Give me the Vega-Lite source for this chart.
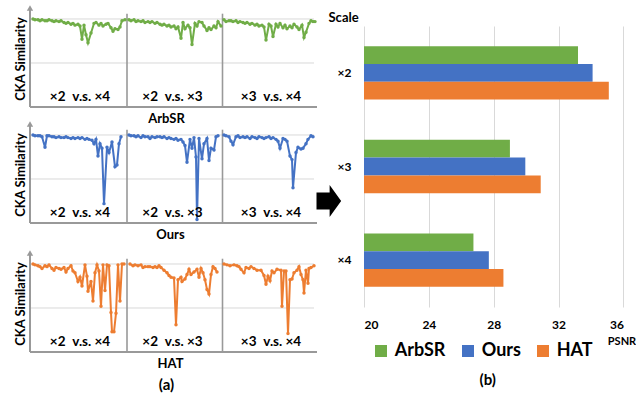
{
"$schema": "https://vega.github.io/schema/vega-lite/v6.json",
"padding": {"left": 14, "top": 5, "right": 0, "bottom": 0},
"background": "white",
"config": {
  "font": "Lato",
  "view": {"stroke": null},
  "axis": {"labelColor": "#000", "titleColor": "#000", "titleFontWeight": "bold", "labelFontWeight": "bold", "labelFont": "Lato", "titleFont": "Lato"},
  "title": {"font": "Lato", "color": "#000", "fontWeight": "bold"},
  "legend": {"labelFont": "Lato", "labelColor": "#000"}
},
"datasets": {
  "labs": [{"lab": "×2\u2002v.s. ×4", "lt": 50}, {"lab": "×2\u2002v.s. ×3", "lt": 142.5}, {"lab": "×3\u2002v.s. ×4", "lt": 241}],
  "psnr": [
    {"scale": "×2", "method": "ArbSR", "psnr": 33.2}, {"scale": "×2", "method": "Ours", "psnr": 34.1}, {"scale": "×2", "method": "HAT", "psnr": 35.1},
    {"scale": "×3", "method": "ArbSR", "psnr": 29.0}, {"scale": "×3", "method": "Ours", "psnr": 29.95}, {"scale": "×3", "method": "HAT", "psnr": 30.9},
    {"scale": "×4", "method": "ArbSR", "psnr": 26.75}, {"scale": "×4", "method": "Ours", "psnr": 27.7}, {"scale": "×4", "method": "HAT", "psnr": 28.6}
  ],
  "cka": [
    {"r":"ArbSR","p":1,"t":3,"v":1.0},{"r":"ArbSR","p":1,"t":5,"v":0.99},{"r":"ArbSR","p":1,"t":8,"v":0.99},{"r":"ArbSR","p":1,"t":10,"v":0.98},{"r":"ArbSR","p":1,"t":12,"v":0.99},{"r":"ArbSR","p":1,"t":15,"v":0.98},{"r":"ArbSR","p":1,"t":17,"v":0.98},{"r":"ArbSR","p":1,"t":19,"v":0.99},{"r":"ArbSR","p":1,"t":22,"v":0.98},{"r":"ArbSR","p":1,"t":24,"v":0.97},{"r":"ArbSR","p":1,"t":26,"v":0.98},{"r":"ArbSR","p":1,"t":29,"v":0.97},{"r":"ArbSR","p":1,"t":31,"v":0.98},{"r":"ArbSR","p":1,"t":34,"v":0.96},{"r":"ArbSR","p":1,"t":36,"v":0.95},{"r":"ArbSR","p":1,"t":38,"v":0.96},{"r":"ArbSR","p":1,"t":41,"v":0.94},{"r":"ArbSR","p":1,"t":43,"v":0.95},{"r":"ArbSR","p":1,"t":45,"v":0.93},{"r":"ArbSR","p":1,"t":48,"v":0.94},{"r":"ArbSR","p":1,"t":50,"v":0.92},{"r":"ArbSR","p":1,"t":52,"v":0.77},{"r":"ArbSR","p":1,"t":54,"v":0.93},{"r":"ArbSR","p":1,"t":56,"v":0.82},{"r":"ArbSR","p":1,"t":58,"v":0.73},{"r":"ArbSR","p":1,"t":61,"v":0.84},{"r":"ArbSR","p":1,"t":64,"v":0.95},{"r":"ArbSR","p":1,"t":66,"v":0.96},{"r":"ArbSR","p":1,"t":69,"v":0.93},{"r":"ArbSR","p":1,"t":71,"v":0.95},{"r":"ArbSR","p":1,"t":73,"v":0.92},{"r":"ArbSR","p":1,"t":76,"v":0.94},{"r":"ArbSR","p":1,"t":78,"v":0.95},{"r":"ArbSR","p":1,"t":81,"v":0.9},{"r":"ArbSR","p":1,"t":83,"v":0.86},{"r":"ArbSR","p":1,"t":85,"v":0.89},{"r":"ArbSR","p":1,"t":88,"v":0.88},{"r":"ArbSR","p":1,"t":90,"v":0.91},{"r":"ArbSR","p":1,"t":92,"v":0.98},{"r":"ArbSR","p":1,"t":95,"v":0.99},
    {"r":"ArbSR","p":2,"t":99,"v":0.99},{"r":"ArbSR","p":2,"t":101,"v":0.98},{"r":"ArbSR","p":2,"t":104,"v":0.99},{"r":"ArbSR","p":2,"t":106,"v":0.97},{"r":"ArbSR","p":2,"t":108,"v":0.98},{"r":"ArbSR","p":2,"t":111,"v":0.97},{"r":"ArbSR","p":2,"t":113,"v":0.98},{"r":"ArbSR","p":2,"t":115,"v":0.96},{"r":"ArbSR","p":2,"t":118,"v":0.97},{"r":"ArbSR","p":2,"t":120,"v":0.96},{"r":"ArbSR","p":2,"t":122,"v":0.97},{"r":"ArbSR","p":2,"t":125,"v":0.95},{"r":"ArbSR","p":2,"t":127,"v":0.96},{"r":"ArbSR","p":2,"t":130,"v":0.94},{"r":"ArbSR","p":2,"t":132,"v":0.93},{"r":"ArbSR","p":2,"t":134,"v":0.94},{"r":"ArbSR","p":2,"t":137,"v":0.92},{"r":"ArbSR","p":2,"t":139,"v":0.93},{"r":"ArbSR","p":2,"t":141,"v":0.91},{"r":"ArbSR","p":2,"t":144,"v":0.92},{"r":"ArbSR","p":2,"t":146,"v":0.89},{"r":"ArbSR","p":2,"t":148,"v":0.91},{"r":"ArbSR","p":2,"t":151,"v":0.78},{"r":"ArbSR","p":2,"t":153,"v":0.96},{"r":"ArbSR","p":2,"t":155,"v":0.89},{"r":"ArbSR","p":2,"t":158,"v":0.93},{"r":"ArbSR","p":2,"t":160,"v":0.9},{"r":"ArbSR","p":2,"t":162,"v":0.71},{"r":"ArbSR","p":2,"t":165,"v":0.95},{"r":"ArbSR","p":2,"t":167,"v":0.92},{"r":"ArbSR","p":2,"t":169,"v":0.97},{"r":"ArbSR","p":2,"t":172,"v":0.96},{"r":"ArbSR","p":2,"t":174,"v":0.92},{"r":"ArbSR","p":2,"t":177,"v":0.87},{"r":"ArbSR","p":2,"t":179,"v":0.9},{"r":"ArbSR","p":2,"t":181,"v":0.88},{"r":"ArbSR","p":2,"t":184,"v":0.92},{"r":"ArbSR","p":2,"t":186,"v":0.9},{"r":"ArbSR","p":2,"t":188,"v":0.97},{"r":"ArbSR","p":2,"t":191,"v":0.92},
    {"r":"ArbSR","p":3,"t":194,"v":0.99},{"r":"ArbSR","p":3,"t":196,"v":0.97},{"r":"ArbSR","p":3,"t":199,"v":0.98},{"r":"ArbSR","p":3,"t":201,"v":0.98},{"r":"ArbSR","p":3,"t":203,"v":0.97},{"r":"ArbSR","p":3,"t":206,"v":0.98},{"r":"ArbSR","p":3,"t":208,"v":0.96},{"r":"ArbSR","p":3,"t":210,"v":0.97},{"r":"ArbSR","p":3,"t":213,"v":0.96},{"r":"ArbSR","p":3,"t":215,"v":0.95},{"r":"ArbSR","p":3,"t":217,"v":0.96},{"r":"ArbSR","p":3,"t":220,"v":0.94},{"r":"ArbSR","p":3,"t":222,"v":0.95},{"r":"ArbSR","p":3,"t":225,"v":0.93},{"r":"ArbSR","p":3,"t":227,"v":0.94},{"r":"ArbSR","p":3,"t":229,"v":0.92},{"r":"ArbSR","p":3,"t":232,"v":0.93},{"r":"ArbSR","p":3,"t":234,"v":0.91},{"r":"ArbSR","p":3,"t":236,"v":0.76},{"r":"ArbSR","p":3,"t":239,"v":0.94},{"r":"ArbSR","p":3,"t":241,"v":0.92},{"r":"ArbSR","p":3,"t":243,"v":0.8},{"r":"ArbSR","p":3,"t":246,"v":0.94},{"r":"ArbSR","p":3,"t":248,"v":0.91},{"r":"ArbSR","p":3,"t":250,"v":0.95},{"r":"ArbSR","p":3,"t":253,"v":0.9},{"r":"ArbSR","p":3,"t":255,"v":0.93},{"r":"ArbSR","p":3,"t":257,"v":0.89},{"r":"ArbSR","p":3,"t":260,"v":0.92},{"r":"ArbSR","p":3,"t":262,"v":0.9},{"r":"ArbSR","p":3,"t":264,"v":0.94},{"r":"ArbSR","p":3,"t":267,"v":0.91},{"r":"ArbSR","p":3,"t":269,"v":0.88},{"r":"ArbSR","p":3,"t":272,"v":0.93},{"r":"ArbSR","p":3,"t":274,"v":0.79},{"r":"ArbSR","p":3,"t":276,"v":0.85},{"r":"ArbSR","p":3,"t":279,"v":0.95},{"r":"ArbSR","p":3,"t":281,"v":0.98},{"r":"ArbSR","p":3,"t":283,"v":0.97},{"r":"ArbSR","p":3,"t":285,"v":0.97},
    {"r":"Ours","p":1,"t":3,"v":1.0},{"r":"Ours","p":1,"t":5,"v":0.99},{"r":"Ours","p":1,"t":8,"v":0.99},{"r":"Ours","p":1,"t":10,"v":0.99},{"r":"Ours","p":1,"t":12,"v":0.98},{"r":"Ours","p":1,"t":15,"v":0.86},{"r":"Ours","p":1,"t":17,"v":0.99},{"r":"Ours","p":1,"t":19,"v":0.99},{"r":"Ours","p":1,"t":22,"v":0.98},{"r":"Ours","p":1,"t":24,"v":0.98},{"r":"Ours","p":1,"t":26,"v":0.97},{"r":"Ours","p":1,"t":29,"v":0.98},{"r":"Ours","p":1,"t":31,"v":0.97},{"r":"Ours","p":1,"t":34,"v":0.97},{"r":"Ours","p":1,"t":36,"v":0.98},{"r":"Ours","p":1,"t":38,"v":0.97},{"r":"Ours","p":1,"t":41,"v":0.96},{"r":"Ours","p":1,"t":43,"v":0.97},{"r":"Ours","p":1,"t":45,"v":0.96},{"r":"Ours","p":1,"t":48,"v":0.97},{"r":"Ours","p":1,"t":50,"v":0.96},{"r":"Ours","p":1,"t":52,"v":0.97},{"r":"Ours","p":1,"t":55,"v":0.95},{"r":"Ours","p":1,"t":57,"v":0.96},{"r":"Ours","p":1,"t":59,"v":0.95},{"r":"Ours","p":1,"t":62,"v":0.94},{"r":"Ours","p":1,"t":64,"v":0.9},{"r":"Ours","p":1,"t":66,"v":0.95},{"r":"Ours","p":1,"t":68,"v":0.76},{"r":"Ours","p":1,"t":70,"v":0.9},{"r":"Ours","p":1,"t":72,"v":0.85},{"r":"Ours","p":1,"t":74,"v":0.22},{"r":"Ours","p":1,"t":77,"v":0.86},{"r":"Ours","p":1,"t":79,"v":0.8},{"r":"Ours","p":1,"t":82,"v":0.92},{"r":"Ours","p":1,"t":85,"v":0.64},{"r":"Ours","p":1,"t":87,"v":0.66},{"r":"Ours","p":1,"t":89,"v":0.9},{"r":"Ours","p":1,"t":91,"v":0.98},
    {"r":"Ours","p":2,"t":99,"v":1.0},{"r":"Ours","p":2,"t":101,"v":0.99},{"r":"Ours","p":2,"t":104,"v":0.99},{"r":"Ours","p":2,"t":106,"v":0.98},{"r":"Ours","p":2,"t":108,"v":0.99},{"r":"Ours","p":2,"t":111,"v":0.97},{"r":"Ours","p":2,"t":113,"v":0.99},{"r":"Ours","p":2,"t":115,"v":0.98},{"r":"Ours","p":2,"t":118,"v":0.98},{"r":"Ours","p":2,"t":120,"v":0.96},{"r":"Ours","p":2,"t":122,"v":0.98},{"r":"Ours","p":2,"t":125,"v":0.97},{"r":"Ours","p":2,"t":127,"v":0.98},{"r":"Ours","p":2,"t":130,"v":0.98},{"r":"Ours","p":2,"t":132,"v":0.97},{"r":"Ours","p":2,"t":134,"v":0.98},{"r":"Ours","p":2,"t":137,"v":0.96},{"r":"Ours","p":2,"t":139,"v":0.97},{"r":"Ours","p":2,"t":141,"v":0.96},{"r":"Ours","p":2,"t":144,"v":0.95},{"r":"Ours","p":2,"t":146,"v":0.96},{"r":"Ours","p":2,"t":148,"v":0.94},{"r":"Ours","p":2,"t":151,"v":0.95},{"r":"Ours","p":2,"t":153,"v":0.92},{"r":"Ours","p":2,"t":155,"v":0.88},{"r":"Ours","p":2,"t":157,"v":0.69},{"r":"Ours","p":2,"t":160,"v":0.95},{"r":"Ours","p":2,"t":162,"v":0.85},{"r":"Ours","p":2,"t":164,"v":0.97},{"r":"Ours","p":2,"t":166,"v":0.75},{"r":"Ours","p":2,"t":167,"v":0.04},{"r":"Ours","p":2,"t":169,"v":0.96},{"r":"Ours","p":2,"t":172,"v":0.73},{"r":"Ours","p":2,"t":174,"v":0.9},{"r":"Ours","p":2,"t":177,"v":0.96},{"r":"Ours","p":2,"t":179,"v":0.71},{"r":"Ours","p":2,"t":181,"v":0.85},{"r":"Ours","p":2,"t":184,"v":0.83},{"r":"Ours","p":2,"t":186,"v":0.98},{"r":"Ours","p":2,"t":188,"v":0.99},
    {"r":"Ours","p":3,"t":194,"v":1.0},{"r":"Ours","p":3,"t":196,"v":0.99},{"r":"Ours","p":3,"t":199,"v":0.98},{"r":"Ours","p":3,"t":201,"v":0.93},{"r":"Ours","p":3,"t":203,"v":0.89},{"r":"Ours","p":3,"t":206,"v":0.98},{"r":"Ours","p":3,"t":208,"v":0.99},{"r":"Ours","p":3,"t":210,"v":0.97},{"r":"Ours","p":3,"t":213,"v":0.98},{"r":"Ours","p":3,"t":215,"v":0.97},{"r":"Ours","p":3,"t":217,"v":0.98},{"r":"Ours","p":3,"t":220,"v":0.96},{"r":"Ours","p":3,"t":222,"v":0.98},{"r":"Ours","p":3,"t":225,"v":0.97},{"r":"Ours","p":3,"t":227,"v":0.96},{"r":"Ours","p":3,"t":229,"v":0.98},{"r":"Ours","p":3,"t":232,"v":0.97},{"r":"Ours","p":3,"t":234,"v":0.96},{"r":"Ours","p":3,"t":236,"v":0.97},{"r":"Ours","p":3,"t":239,"v":0.98},{"r":"Ours","p":3,"t":241,"v":0.96},{"r":"Ours","p":3,"t":243,"v":0.97},{"r":"Ours","p":3,"t":246,"v":0.95},{"r":"Ours","p":3,"t":248,"v":0.93},{"r":"Ours","p":3,"t":250,"v":0.85},{"r":"Ours","p":3,"t":253,"v":0.96},{"r":"Ours","p":3,"t":255,"v":0.95},{"r":"Ours","p":3,"t":257,"v":0.93},{"r":"Ours","p":3,"t":260,"v":0.76},{"r":"Ours","p":3,"t":262,"v":0.72},{"r":"Ours","p":3,"t":263,"v":0.4},{"r":"Ours","p":3,"t":266,"v":0.8},{"r":"Ours","p":3,"t":268,"v":0.86},{"r":"Ours","p":3,"t":271,"v":0.84},{"r":"Ours","p":3,"t":273,"v":0.85},{"r":"Ours","p":3,"t":276,"v":0.9},{"r":"Ours","p":3,"t":278,"v":0.95},{"r":"Ours","p":3,"t":281,"v":0.99},{"r":"Ours","p":3,"t":283,"v":0.98},
    {"r":"HAT","p":1,"t":3,"v":1.0},{"r":"HAT","p":1,"t":5,"v":0.99},{"r":"HAT","p":1,"t":8,"v":0.98},{"r":"HAT","p":1,"t":10,"v":0.97},{"r":"HAT","p":1,"t":12,"v":0.95},{"r":"HAT","p":1,"t":15,"v":0.98},{"r":"HAT","p":1,"t":17,"v":0.97},{"r":"HAT","p":1,"t":19,"v":0.99},{"r":"HAT","p":1,"t":22,"v":0.95},{"r":"HAT","p":1,"t":24,"v":0.93},{"r":"HAT","p":1,"t":26,"v":0.96},{"r":"HAT","p":1,"t":29,"v":0.95},{"r":"HAT","p":1,"t":31,"v":0.94},{"r":"HAT","p":1,"t":34,"v":0.96},{"r":"HAT","p":1,"t":36,"v":0.91},{"r":"HAT","p":1,"t":38,"v":0.95},{"r":"HAT","p":1,"t":41,"v":0.98},{"r":"HAT","p":1,"t":43,"v":0.92},{"r":"HAT","p":1,"t":45,"v":0.9},{"r":"HAT","p":1,"t":48,"v":0.8},{"r":"HAT","p":1,"t":50,"v":0.85},{"r":"HAT","p":1,"t":52,"v":0.75},{"r":"HAT","p":1,"t":55,"v":0.99},{"r":"HAT","p":1,"t":57,"v":0.86},{"r":"HAT","p":1,"t":58,"v":0.69},{"r":"HAT","p":1,"t":61,"v":0.8},{"r":"HAT","p":1,"t":63,"v":0.58},{"r":"HAT","p":1,"t":65,"v":0.9},{"r":"HAT","p":1,"t":67,"v":0.99},{"r":"HAT","p":1,"t":69,"v":0.92},{"r":"HAT","p":1,"t":71,"v":0.52},{"r":"HAT","p":1,"t":73,"v":0.99},{"r":"HAT","p":1,"t":75,"v":0.7},{"r":"HAT","p":1,"t":77,"v":0.99},{"r":"HAT","p":1,"t":79,"v":0.98},{"r":"HAT","p":1,"t":81,"v":0.45},{"r":"HAT","p":1,"t":82,"v":0.23},{"r":"HAT","p":1,"t":84,"v":0.23},{"r":"HAT","p":1,"t":86,"v":0.44},{"r":"HAT","p":1,"t":88,"v":0.99},{"r":"HAT","p":1,"t":90,"v":0.58},{"r":"HAT","p":1,"t":92,"v":1.0},{"r":"HAT","p":1,"t":94,"v":1.0},
    {"r":"HAT","p":2,"t":100,"v":1.0},{"r":"HAT","p":2,"t":103,"v":0.98},{"r":"HAT","p":2,"t":105,"v":0.99},{"r":"HAT","p":2,"t":108,"v":0.98},{"r":"HAT","p":2,"t":111,"v":0.99},{"r":"HAT","p":2,"t":113,"v":0.96},{"r":"HAT","p":2,"t":115,"v":0.97},{"r":"HAT","p":2,"t":118,"v":0.97},{"r":"HAT","p":2,"t":120,"v":0.97},{"r":"HAT","p":2,"t":123,"v":0.96},{"r":"HAT","p":2,"t":125,"v":0.97},{"r":"HAT","p":2,"t":127,"v":0.96},{"r":"HAT","p":2,"t":129,"v":0.98},{"r":"HAT","p":2,"t":131,"v":0.96},{"r":"HAT","p":2,"t":134,"v":0.93},{"r":"HAT","p":2,"t":137,"v":0.9},{"r":"HAT","p":2,"t":139,"v":0.87},{"r":"HAT","p":2,"t":141,"v":0.85},{"r":"HAT","p":2,"t":144,"v":0.84},{"r":"HAT","p":2,"t":146,"v":0.31},{"r":"HAT","p":2,"t":148,"v":0.82},{"r":"HAT","p":2,"t":151,"v":0.85},{"r":"HAT","p":2,"t":152,"v":0.8},{"r":"HAT","p":2,"t":155,"v":0.83},{"r":"HAT","p":2,"t":157,"v":0.88},{"r":"HAT","p":2,"t":159,"v":0.94},{"r":"HAT","p":2,"t":161,"v":0.88},{"r":"HAT","p":2,"t":164,"v":0.91},{"r":"HAT","p":2,"t":167,"v":0.94},{"r":"HAT","p":2,"t":169,"v":0.85},{"r":"HAT","p":2,"t":171,"v":0.95},{"r":"HAT","p":2,"t":173,"v":0.9},{"r":"HAT","p":2,"t":175,"v":0.82},{"r":"HAT","p":2,"t":177,"v":0.71},{"r":"HAT","p":2,"t":179,"v":0.66},{"r":"HAT","p":2,"t":181,"v":0.88},{"r":"HAT","p":2,"t":183,"v":0.97},{"r":"HAT","p":2,"t":185,"v":0.95},{"r":"HAT","p":2,"t":187,"v":0.91},
    {"r":"HAT","p":3,"t":194,"v":1.0},{"r":"HAT","p":3,"t":197,"v":0.99},{"r":"HAT","p":3,"t":200,"v":0.98},{"r":"HAT","p":3,"t":204,"v":0.99},{"r":"HAT","p":3,"t":207,"v":0.98},{"r":"HAT","p":3,"t":209,"v":0.97},{"r":"HAT","p":3,"t":211,"v":0.94},{"r":"HAT","p":3,"t":214,"v":0.9},{"r":"HAT","p":3,"t":216,"v":0.96},{"r":"HAT","p":3,"t":219,"v":0.95},{"r":"HAT","p":3,"t":221,"v":0.97},{"r":"HAT","p":3,"t":224,"v":0.95},{"r":"HAT","p":3,"t":227,"v":0.93},{"r":"HAT","p":3,"t":231,"v":0.93},{"r":"HAT","p":3,"t":234,"v":0.87},{"r":"HAT","p":3,"t":236,"v":0.77},{"r":"HAT","p":3,"t":238,"v":0.86},{"r":"HAT","p":3,"t":240,"v":0.81},{"r":"HAT","p":3,"t":242,"v":0.92},{"r":"HAT","p":3,"t":244,"v":0.9},{"r":"HAT","p":3,"t":247,"v":0.94},{"r":"HAT","p":3,"t":251,"v":0.93},{"r":"HAT","p":3,"t":252,"v":0.52},{"r":"HAT","p":3,"t":254,"v":0.92},{"r":"HAT","p":3,"t":256,"v":0.92},{"r":"HAT","p":3,"t":258,"v":0.21},{"r":"HAT","p":3,"t":260,"v":0.82},{"r":"HAT","p":3,"t":262,"v":0.83},{"r":"HAT","p":3,"t":264,"v":0.9},{"r":"HAT","p":3,"t":267,"v":0.93},{"r":"HAT","p":3,"t":269,"v":0.97},{"r":"HAT","p":3,"t":271,"v":0.88},{"r":"HAT","p":3,"t":273,"v":0.82},{"r":"HAT","p":3,"t":274,"v":0.67},{"r":"HAT","p":3,"t":276,"v":0.93},{"r":"HAT","p":3,"t":278,"v":0.78},{"r":"HAT","p":3,"t":279,"v":0.95},{"r":"HAT","p":3,"t":281,"v":0.96},{"r":"HAT","p":3,"t":284,"v":0.98}
  ]
},
"spacing": -3,
"hconcat": [
  {
    "vconcat": [
      {
        "width": 287, "height": 100,
        "layer": [
          {"data": {"values": [{"g": 1}, {"g": 0.5}]}, "mark": {"type": "rule", "color": "#d9d9d9", "strokeWidth": 1}, "encoding": {"y": {"field": "g", "type": "quantitative"}, "x": {"datum": 0}, "x2": {"datum": 284}}},
          {"data": {"values": [{"s": 97}, {"s": 192.5}]}, "mark": {"type": "rule", "color": "#999999", "strokeWidth": 1.6}, "encoding": {"x": {"field": "s", "type": "quantitative"}, "y": {"datum": 0}, "y2": {"datum": 1.06}}},
          {"data": {"values": [{"a": 1}]}, "mark": {"type": "rule", "color": "#999999", "strokeWidth": 2}, "encoding": {"x": {"datum": 0}, "y": {"datum": 0}, "y2": {"datum": 1.11}}},
          {"data": {"values": [{"a": 1}]}, "mark": {"type": "rule", "color": "#999999", "strokeWidth": 2}, "encoding": {"y": {"datum": 0}, "x": {"datum": 0}, "x2": {"datum": 287}}},
          {"data": {"values": [{"a": 1}]}, "mark": {"type": "point", "shape": "triangle-up", "filled": true, "color": "#999999", "size": 40, "opacity": 1}, "encoding": {"x": {"datum": 0}, "y": {"datum": 1.125}}},
          {"data": {"name": "cka"}, "transform": [{"filter": "datum.r === 'ArbSR'"}],
           "mark": {"type": "line", "color": "#70AD47", "strokeWidth": 2, "point": {"filled": true, "size": 12, "color": "#70AD47", "opacity": 1}},
           "encoding": {
             "x": {"field": "t", "type": "quantitative", "scale": {"domain": [0, 287], "nice": false, "zero": false}, "axis": {"title": "ArbSR", "labels": false, "ticks": false, "domain": false, "grid": false, "titleFontSize": 13, "titleX": 136, "titlePadding": 5}},
             "y": {"field": "v", "type": "quantitative", "scale": {"domain": [0, 1.136], "nice": false, "zero": false}, "axis": {"title": "CKA Similarity", "labels": false, "ticks": false, "domain": false, "grid": false, "titleFontSize": 13, "titlePadding": 3, "titleY": 51.5}},
             "detail": {"field": "p"}
           }},
          {"data": {"name": "labs"}, "mark": {"type": "text", "fontSize": 13.5, "fontWeight": "bold", "color": "#000"}, "encoding": {"x": {"field": "lt", "type": "quantitative"}, "y": {"datum": 0.11}, "text": {"field": "lab"}}}
        ]
      },
      {
        "width": 287, "height": 100,
        "layer": [
          {"data": {"values": [{"g": 1}, {"g": 0.5}]}, "mark": {"type": "rule", "color": "#d9d9d9", "strokeWidth": 1}, "encoding": {"y": {"field": "g", "type": "quantitative"}, "x": {"datum": 0}, "x2": {"datum": 284}}},
          {"data": {"values": [{"s": 97}, {"s": 192.5}]}, "mark": {"type": "rule", "color": "#999999", "strokeWidth": 1.6}, "encoding": {"x": {"field": "s", "type": "quantitative"}, "y": {"datum": 0}, "y2": {"datum": 1.06}}},
          {"data": {"values": [{"a": 1}]}, "mark": {"type": "rule", "color": "#999999", "strokeWidth": 2}, "encoding": {"x": {"datum": 0}, "y": {"datum": 0}, "y2": {"datum": 1.11}}},
          {"data": {"values": [{"a": 1}]}, "mark": {"type": "rule", "color": "#999999", "strokeWidth": 2}, "encoding": {"y": {"datum": 0}, "x": {"datum": 0}, "x2": {"datum": 287}}},
          {"data": {"values": [{"a": 1}]}, "mark": {"type": "point", "shape": "triangle-up", "filled": true, "color": "#999999", "size": 40, "opacity": 1}, "encoding": {"x": {"datum": 0}, "y": {"datum": 1.125}}},
          {"data": {"name": "cka"}, "transform": [{"filter": "datum.r === 'Ours'"}],
           "mark": {"type": "line", "color": "#4472C4", "strokeWidth": 2, "point": {"filled": true, "size": 12, "color": "#4472C4", "opacity": 1}},
           "encoding": {
             "x": {"field": "t", "type": "quantitative", "scale": {"domain": [0, 287], "nice": false, "zero": false}, "axis": {"title": "Ours", "labels": false, "ticks": false, "domain": false, "grid": false, "titleFontSize": 13, "titleX": 140, "titlePadding": 5}},
             "y": {"field": "v", "type": "quantitative", "scale": {"domain": [0, 1.136], "nice": false, "zero": false}, "axis": {"title": "CKA Similarity", "labels": false, "ticks": false, "domain": false, "grid": false, "titleFontSize": 13, "titlePadding": 3, "titleY": 51.5}},
             "detail": {"field": "p"}
           }},
          {"data": {"name": "labs"}, "mark": {"type": "text", "fontSize": 13.5, "fontWeight": "bold", "color": "#000"}, "encoding": {"x": {"field": "lt", "type": "quantitative"}, "y": {"datum": 0.11}, "text": {"field": "lab"}}}
        ]
      },
      {
        "width": 287, "height": 113,
        "layer": [
          {"data": {"values": [{"g": 1}, {"g": 0.5}]}, "mark": {"type": "rule", "color": "#d9d9d9", "strokeWidth": 1}, "encoding": {"y": {"field": "g", "type": "quantitative"}, "x": {"datum": 0}, "x2": {"datum": 284}}},
          {"data": {"values": [{"s": 97}, {"s": 192.5}]}, "mark": {"type": "rule", "color": "#999999", "strokeWidth": 1.6}, "encoding": {"x": {"field": "s", "type": "quantitative"}, "y": {"datum": 0}, "y2": {"datum": 1.06}}},
          {"data": {"values": [{"a": 1}]}, "mark": {"type": "rule", "color": "#999999", "strokeWidth": 2}, "encoding": {"x": {"datum": 0}, "y": {"datum": 0}, "y2": {"datum": 1.11}}},
          {"data": {"values": [{"a": 1}]}, "mark": {"type": "rule", "color": "#999999", "strokeWidth": 2}, "encoding": {"y": {"datum": 0}, "x": {"datum": 0}, "x2": {"datum": 287}}},
          {"data": {"values": [{"a": 1}]}, "mark": {"type": "point", "shape": "triangle-up", "filled": true, "color": "#999999", "size": 40, "opacity": 1}, "encoding": {"x": {"datum": 0}, "y": {"datum": 1.125}}},
          {"data": {"name": "cka"}, "transform": [{"filter": "datum.r === 'HAT'"}],
           "mark": {"type": "line", "color": "#ED7D31", "strokeWidth": 2, "point": {"filled": true, "size": 12, "color": "#ED7D31", "opacity": 1}},
           "encoding": {
             "x": {"field": "t", "type": "quantitative", "scale": {"domain": [0, 287], "nice": false, "zero": false}, "axis": {"title": "HAT", "labels": false, "ticks": false, "domain": false, "grid": false, "titleFontSize": 13, "titleX": 140, "titlePadding": 5}},
             "y": {"field": "v", "type": "quantitative", "scale": {"domain": [0, 1.284], "nice": false, "zero": false}, "axis": {"title": "CKA Similarity", "labels": false, "ticks": false, "domain": false, "grid": false, "titleFontSize": 13, "titlePadding": 3, "titleY": 64.5}},
             "detail": {"field": "p"}
           }},
          {"data": {"name": "labs"}, "mark": {"type": "text", "fontSize": 13.5, "fontWeight": "bold", "color": "#000"}, "encoding": {"x": {"field": "lt", "type": "quantitative"}, "y": {"datum": 0.11}, "text": {"field": "lab"}}}
        ]
      }
    ],
    "spacing": 16,
    "bounds": "flush",
    "title": {"text": "(a)", "orient": "bottom", "fontSize": 15, "fontWeight": "bold", "anchor": "middle", "offset": 8}
  },
  {
    "vconcat": [
      {"data": {"values": []}, "mark": "rule", "encoding": {}, "width": 10, "height": 18.7},
      {
        "width": 259.4, "height": 281,
        "title": {"text": "(b)", "orient": "bottom", "fontSize": 15, "fontWeight": "bold", "frame": "group", "anchor": "middle", "dx": -6, "offset": 27},
        "layer": [
          {"data": {"name": "psnr"}, "mark": {"type": "bar"},
           "encoding": {
             "y": {"field": "scale", "type": "nominal", "sort": ["×2", "×3", "×4"], "scale": {"paddingInner": 0.43, "paddingOuter": 0.215}, "axis": {"title": "Scale", "titleAngle": 0, "titleX": -36, "titleY": -9, "titleAlign": "left", "titleBaseline": "middle", "titleFontSize": 13, "labelFontSize": 12, "labelPadding": 13, "ticks": false, "domain": false, "grid": false}},
             "yOffset": {"field": "method", "type": "nominal", "sort": ["ArbSR", "Ours", "HAT"]},
             "x": {"field": "psnr", "type": "quantitative", "scale": {"domain": [20, 36], "nice": false, "zero": false}, "axis": {"values": [20, 24, 28, 32, 36], "title": "PSNR", "titleX": 257.5, "titleY": 34, "titleAlign": "center", "titleBaseline": "middle", "titleFontSize": 11, "labelFontSize": 12, "labelPadding": 12, "ticks": false, "domain": false, "grid": true, "gridColor": "#d9d9d9", "gridWidth": 1}},
             "x2": {"datum": 20},
             "color": {"field": "method", "type": "nominal", "sort": ["ArbSR", "Ours", "HAT"], "scale": {"domain": ["ArbSR", "Ours", "HAT"], "range": ["#70AD47", "#4472C4", "#ED7D31"]}, "legend": {"title": null, "orient": "none", "legendX": 342, "legendY": 335, "direction": "horizontal", "columns": 3, "symbolType": "square", "symbolSize": 144, "symbolStrokeWidth": 0, "labelFontSize": 18, "labelFontWeight": "bold", "labelOffset": 4.7, "columnPadding": 13, "padding": 0}}
           }},
          {"data": {"values": [{"k": "arrow"}]}, "mark": {"type": "point", "shape": "M-0.79,-0.53 L0.03,-0.53 L0.03,-1 L0.75,0 L0.03,1 L0.03,0.53 L-0.79,0.53 Z", "filled": true, "color": "#000000", "size": 1024, "opacity": 1},
           "encoding": {"x": {"datum": 17.85}, "y": {"datum": 0.377, "type": "quantitative", "scale": {"domain": [0, 1], "nice": false, "zero": false}, "axis": null}}}
        ],
        "resolve": {"scale": {"y": "independent"}, "axis": {"y": "independent"}}
      }
    ],
    "spacing": 0,
    "bounds": "flush"
  }
]
}
